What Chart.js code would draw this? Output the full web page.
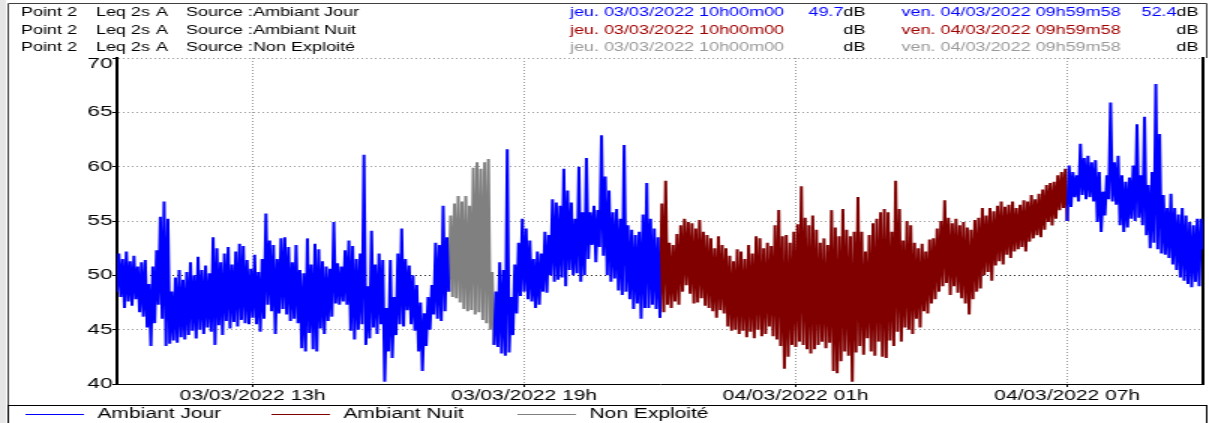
<!DOCTYPE html>
<html>
<head>
<meta charset="utf-8">
<title>Point 2 - Leq 2s A</title>
<script src="https://cdn.jsdelivr.net/npm/chart.js@4.4.0/dist/chart.umd.min.js"></script>
<style>
  body { margin: 0; background: #fff; }
</style>
</head>
<body>
<canvas id="graph" width="806" height="423" style="width:1209px;height:423px;background:#fff"></canvas>
<script>
// one value pair every 5 minutes, from 03/03/2022 10h00 (one line = one hour)
const stepMinutes = 5
const levelMax = [
  52.0, 51.5, 52.2, 51.3, 51.8, 50.8, 51.2, 51.4, 49.2, 50.8, 52.3, 55.4,
  56.8, 55.2, 48.5, 49.8, 50.5, 49.6, 50.3, 51.2, 50.0, 51.7, 50.5, 50.9,
  50.2, 53.5, 52.5, 51.2, 52.0, 52.6, 51.0, 52.2, 52.9, 52.7, 51.4, 50.6,
  51.9, 50.3, 51.5, 55.7, 53.2, 52.8, 51.5, 53.4, 53.5, 52.6, 51.2, 52.8,
  50.5, 50.2, 53.4, 51.0, 52.9, 52.4, 51.3, 50.8, 50.6, 54.9, 51.1, 50.8,
  52.3, 53.2, 52.7, 51.5, 52.0, 61.1, 49.0, 54.1, 51.0, 52.0, 51.4, 47.0,
  51.4, 48.0, 52.0, 54.3, 51.5, 50.9, 50.0, 49.1, 47.5, 46.5, 48.0, 49.1,
  53.0, 52.8, 56.4, 53.5, 55.5, 56.6, 57.3, 56.8, 57.3, 56.4, 59.9, 60.4,
  59.8, 60.4, 60.7, 50.3, 48.5, 51.2, 50.5, 61.6, 48.0, 51.0, 53.0, 55.2,
  54.3, 53.2, 51.5, 52.2, 52.0, 54.0, 53.7, 57.0, 56.7, 56.4, 59.8, 57.8,
  56.7, 55.2, 60.0, 55.8, 60.8, 55.8, 56.4, 56.0, 62.9, 59.1, 57.8, 55.8,
  56.1, 55.2, 62.0, 54.6, 54.2, 53.7, 54.0, 55.6, 58.5, 55.2, 54.3, 53.5,
  56.6, 58.7, 53.0, 52.8, 53.8, 54.6, 55.2, 54.9, 54.8, 54.3, 55.1, 54.0,
  53.7, 53.4, 52.5, 53.6, 52.8, 52.5, 51.8, 51.3, 52.4, 52.2, 51.5, 52.8,
  52.0, 53.6, 53.4, 52.5, 53.0, 52.7, 54.6, 56.0, 53.6, 53.7, 53.0, 54.0,
  54.7, 58.2, 55.3, 54.6, 55.5, 54.2, 53.0, 53.4, 52.8, 56.0, 54.4, 53.6,
  56.1, 54.2, 53.6, 54.0, 57.2, 54.0, 52.2, 53.7, 54.8, 55.2, 55.8, 56.1,
  55.8, 54.0, 58.7, 56.1, 53.2, 55.0, 54.6, 53.0, 52.5, 52.9, 52.2, 53.3,
  53.4, 54.3, 55.0, 56.9, 55.3, 54.8, 55.2, 54.6, 54.9, 54.4, 54.2, 55.1,
  55.3, 56.2, 55.5, 56.2, 55.9, 56.4, 56.8, 56.3, 56.5, 56.8, 56.2, 56.5,
  56.9, 56.8, 57.4, 57.0, 57.5, 57.9, 58.3, 58.5, 58.6, 59.2, 59.5, 59.8,
  60.1, 59.5, 59.2, 62.1, 60.8, 61.0, 60.4, 60.6, 59.5, 57.7, 59.2, 65.9,
  60.4, 61.0, 59.2, 58.6, 59.0, 60.1, 63.9, 59.2, 64.6, 58.3, 59.5, 67.6,
  63.0, 57.4, 56.2, 57.5, 56.2, 55.6, 56.2, 55.5, 54.9, 54.6, 55.2, 55.2,
]
const levelMin = [
  48.5, 48.0, 47.0, 47.6, 47.2, 47.8, 46.6, 46.2, 45.2, 43.5, 45.6, 47.3,
  46.0, 43.5, 43.7, 44.0, 43.8, 44.3, 44.1, 44.5, 44.9, 44.2, 45.0, 44.6,
  45.2, 44.8, 43.6, 45.4, 44.5, 45.8, 45.1, 45.7, 45.3, 45.9, 45.6, 45.5,
  46.1, 45.5, 44.8, 46.0, 47.3, 46.7, 44.6, 46.5, 46.9, 46.4, 45.8, 46.0,
  45.6, 43.3, 43.0, 44.7, 43.2, 43.0, 45.1, 44.6, 45.8, 46.2, 47.4, 47.3,
  47.6, 47.3, 44.9, 44.1, 45.0, 45.5, 43.6, 44.2, 45.2, 44.6, 45.5, 40.2,
  43.0, 42.4, 44.5, 45.5, 45.3, 46.8, 45.5, 44.9, 43.0, 41.2, 43.5, 45.0,
  46.4, 46.0, 45.8, 46.7, 48.5, 48.0, 47.9, 47.5, 46.9, 46.7, 46.8, 46.4,
  46.6, 45.9, 45.6, 45.0, 43.6, 43.4, 42.8, 42.6, 42.9, 44.5, 46.5, 48.1,
  48.5, 47.8, 47.6, 47.0, 47.3, 48.5, 48.4, 50.0, 49.4, 49.6, 49.8, 49.0,
  50.5, 50.0, 50.2, 49.4, 50.0, 51.5, 52.8, 51.2, 52.6, 51.8, 50.0, 49.4,
  49.7, 48.6, 48.2, 48.5, 47.8, 46.9, 47.4, 46.0, 47.0, 47.0, 47.3, 46.9,
  46.1, 46.6, 47.3, 47.0, 47.6, 47.3, 48.5, 49.1, 48.3, 47.4, 47.5, 47.9,
  47.2, 47.0, 46.7, 46.1, 46.8, 46.5, 45.3, 44.9, 45.0, 44.6, 44.9, 44.3,
  44.8, 44.2, 45.0, 44.4, 44.6, 45.3, 44.4, 44.1, 43.5, 41.4, 42.5, 43.6,
  43.4, 43.9, 43.6, 43.2, 42.8, 43.2, 43.6, 43.9, 43.3, 43.8, 41.2, 41.0,
  42.1, 43.0, 42.6, 40.2, 42.9, 43.5, 42.7, 44.2, 43.0, 42.6, 43.9, 42.5,
  42.4, 44.0, 43.5, 44.8, 43.9, 45.2, 45.0, 44.6, 46.0, 45.2, 46.7, 46.5,
  47.4, 47.8, 48.5, 49.0, 49.3, 48.2, 49.0, 48.4, 47.9, 47.4, 46.4, 47.8,
  48.5, 48.8, 50.0, 50.3, 49.5, 50.9, 51.3, 51.0, 51.9, 51.6, 52.2, 52.4,
  52.6, 52.2, 53.1, 53.4, 53.7, 53.5, 54.2, 54.9, 54.6, 55.2, 56.0, 56.2,
  55.0, 56.3, 57.2, 56.8, 57.4, 57.0, 57.2, 56.8, 54.9, 54.0, 55.5, 57.0,
  56.8, 56.5, 54.6, 54.0, 54.4, 55.2, 55.0, 55.3, 54.6, 53.7, 52.5, 53.0,
  52.4, 52.0, 51.9, 51.6, 51.0, 50.5, 49.8, 49.5, 49.2, 48.9, 49.4, 49.0,
]
const endLevel = 52.4

// source periods: first step of each period and its source (0 jour, 1 nuit, 2 non exploite)
const segStart = [0, 88, 100, 144, 252]
const segSource = [0, 2, 0, 1, 0]

const sources = ['Ambiant Jour', 'Ambiant Nuit', 'Non Exploité']
const seriesColors = ['#0000ff', '#800000', '#808080']
const headerColors = ['#0000ff', '#a00000', '#999999']
const firstValues = ['49.7', '', '']
const lastValues = ['52.4', '', '']
const startStamp = 'jeu. 03/03/2022 10h00m00'
const endStamp = 'ven. 04/03/2022 09h59m58'

const tickHours = [3, 9, 15, 21]
const tickLabels = ['03/03/2022 13h', '03/03/2022 19h', '04/03/2022 01h', '04/03/2022 07h']

const FONT = '"Liberation Sans", Arial, sans-serif'
Chart.defaults.font.family = FONT
Chart.defaults.color = '#000'

function buildSeries(src) {
  const step = stepMinutes / 60
  const pts = []
  segStart.forEach((start, s) => {
    if (segSource[s] !== src) return
    const end = s + 1 < segStart.length ? segStart[s + 1] : levelMax.length
    if (pts.length) pts.push({ x: start * step, y: null })
    for (let i = start; i < end; i++) {
      pts.push({ x: i * step, y: levelMin[i] })
      pts.push({ x: (i + 0.5) * step, y: levelMax[i] })
    }
    pts.push({ x: end * step, y: end < levelMin.length ? levelMin[end] : endLevel })
  })
  return pts
}

const decor = {
  id: 'decor',
  afterDraw(chart) {
    const ctx = chart.ctx
    const area = chart.chartArea
    const sets = chart.data.datasets
    ctx.save()

    // frame
    ctx.fillStyle = '#e6e6e6'
    ctx.fillRect(0, 0, 4, chart.height)
    ctx.strokeStyle = '#404040'
    ctx.lineWidth = 1
    ctx.beginPath()
    ctx.moveTo(5.5, chart.height)
    ctx.lineTo(5.5, 3.5)
    ctx.lineTo(804.5, 3.5)
    ctx.lineTo(804.5, area.top)
    ctx.stroke()
    ctx.strokeStyle = '#000'
    ctx.strokeRect(5.5, 405.5, 799, 20)

    // header
    ctx.font = '12px ' + FONT
    ctx.textBaseline = 'middle'
    sets.forEach((ds, i) => {
      const y = 13 + i * 17.5
      ctx.textAlign = 'left'
      ctx.fillStyle = '#000'
      ctx.fillText('Point 2', 14, y)
      ctx.fillText('Leq 2s', 64, y)
      ctx.fillText('A', 104, y)
      ctx.fillText('Source :' + ds.label, 124, y)
      ctx.fillStyle = headerColors[i]
      ctx.fillText(startStamp, 380, y)
      ctx.fillText(endStamp, 601, y)
      ctx.textAlign = 'right'
      ctx.fillStyle = '#000'
      ctx.fillText('dB', 577, y)
      ctx.fillText('dB', 799, y)
      const w = ctx.measureText('dB').width
      ctx.fillStyle = headerColors[i]
      ctx.fillText(firstValues[i], 577 - w, y)
      ctx.fillText(lastValues[i], 799 - w, y)
    })

    // top tick label sits under the top line
    ctx.font = '15px ' + FONT
    ctx.textAlign = 'right'
    ctx.fillStyle = '#000'
    ctx.fillText(String(chart.scales.y.max), area.left - 3, area.top + 6)

    // legend
    ctx.font = '14px ' + FONT
    ctx.textAlign = 'left'
    sets.forEach((ds, i) => {
      const x = 17 + i * 164
      const y = 414
      ctx.strokeStyle = ds.borderColor
      ctx.lineWidth = 1
      ctx.beginPath()
      ctx.moveTo(x, y + 0.5)
      ctx.lineTo(x + 39, y + 0.5)
      ctx.stroke()
      ctx.fillStyle = '#000'
      ctx.fillText(ds.label, x + 48, y)
    })
    ctx.restore()
  },
}

new Chart(document.getElementById('graph'), {
  type: 'line',
  data: {
    datasets: sources.map((name, i) => ({
      label: name,
      data: buildSeries(i),
      borderColor: seriesColors[i],
      backgroundColor: seriesColors[i],
      borderWidth: 2,
      pointRadius: 0,
      tension: 0,
      spanGaps: false,
    })),
  },
  options: {
    responsive: false,
    devicePixelRatio: 1,
    animation: false,
    events: [],
    layout: { padding: { top: 58, left: 0, right: 0, bottom: 0 } },
    plugins: { legend: { display: false }, tooltip: { enabled: false } },
    scales: {
      x: {
        type: 'linear',
        min: 0,
        max: 24,
        afterBuildTicks: (s) => {
          s.ticks = tickHours.map((v) => ({ value: v }))
        },
        afterFit: (s) => {
          s.height = 39
        },
        ticks: {
          autoSkip: false,
          maxRotation: 0,
          padding: 1,
          font: { size: 14 },
          callback: (v) => tickLabels[tickHours.indexOf(v)],
        },
        grid: { color: '#9a9a9a', tickLength: 3, tickColor: '#000' },
        border: { color: '#000', width: 1, dash: [1, 2] },
      },
      y: {
        min: 40,
        max: 70,
        afterFit: (s) => {
          s.width = 78
        },
        ticks: {
          stepSize: 5,
          padding: 0,
          font: { size: 15 },
          callback: (v) => (v === 70 ? '' : v),
        },
        grid: {
          color: (c) => (c.tick && (c.tick.value === 50 || c.tick.value === 40) ? '#202020' : '#9a9a9a'),
          tickLength: 3,
          tickColor: '#000',
        },
        border: { color: '#000', width: 2, dash: [1, 2] },
      },
      y2: {
        position: 'right',
        min: 40,
        max: 70,
        afterFit: (s) => {
          s.width = 4
        },
        ticks: { display: false },
        grid: { display: false },
        border: { color: '#000', width: 2 },
      },
    },
  },
  plugins: [decor],
})
</script>
</body>
</html>
